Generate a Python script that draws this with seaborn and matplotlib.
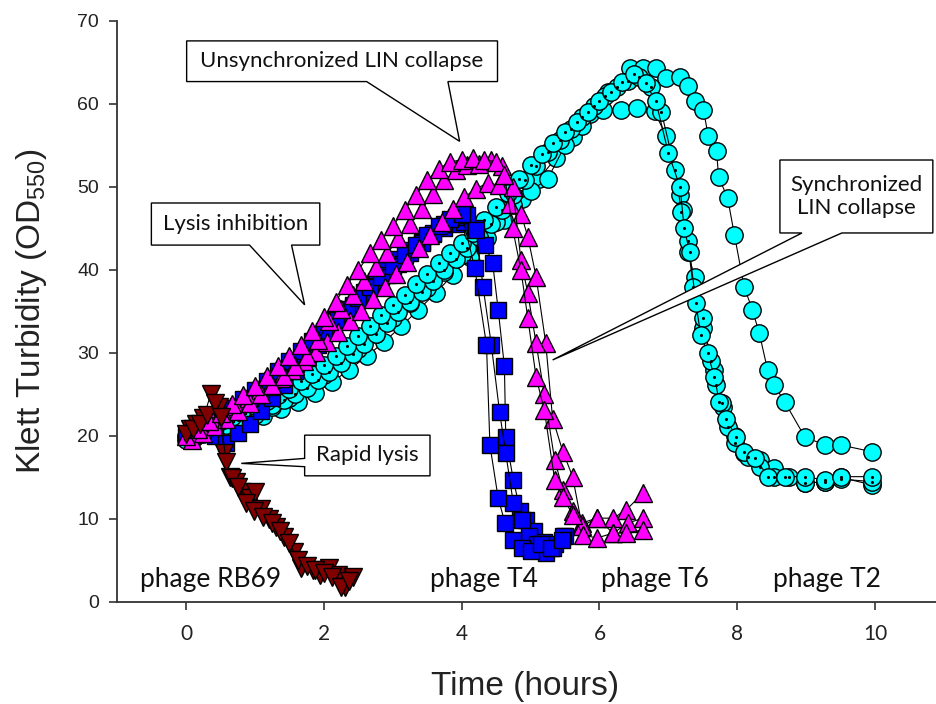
import matplotlib
matplotlib.use("Agg")
import matplotlib.pyplot as plt
import seaborn as sns
import pandas as pd
from matplotlib.patches import Polygon

# ---------------- data (Time in hours, Klett turbidity) ----------------
# phage T6 (cyan circles with dot), two replicates
t6a_x = [0.0,0.17,0.33,0.5,0.67,0.83,1.0,1.17,1.33,1.5,1.67,1.83,2.0,2.17,2.33,2.5,2.67,2.83,3.0,3.17,3.33,3.5,3.67,3.83,
         4.0,4.17,4.33,4.5,4.67,4.83,5.0,5.17,5.33,5.5,5.67,5.83,6.0,6.17,6.33,6.5,6.67,6.82,7.0,7.17,7.23,7.31,7.4,7.47,
         7.57,7.67,7.74,7.84,7.98,8.1,8.26,8.45,8.69,8.98,9.27,9.51,9.96]
t6a_y = [20.0,20.6,21.2,21.8,22.3,22.9,23.6,24.2,24.9,25.7,26.6,27.5,28.6,29.6,30.8,32.0,33.3,34.6,35.8,37.0,38.3,39.5,40.8,42.0,
         43.2,44.5,46.0,47.6,49.3,51.0,52.6,54.0,55.3,56.6,57.8,59.0,60.3,61.5,62.6,63.6,62.5,60.3,54.1,50.0,45.0,42.2,36.0,32.2,
         30.0,27.1,24.1,22.1,19.9,18.1,17.3,15.1,15.1,15.1,14.7,15.1,15.1]
t6b_x = [0.08,0.25,0.42,0.58,0.75,0.92,1.08,1.25,1.42,1.58,1.75,1.92,2.08,2.25,2.42,2.58,2.75,2.92,3.08,3.25,3.42,3.58,3.75,3.92,
         4.08,4.25,4.42,4.58,4.75,4.92,5.08,5.25,5.42,5.58,5.75,5.92,6.08,6.25,6.42,6.58,6.75,6.9,7.1,7.19,7.28,7.36,7.5,7.62,
         7.69,7.78,7.86,7.97,8.15,8.33,8.54,8.75,8.98,9.27,9.51,9.96]
t6b_y = [19.8,20.3,20.8,21.3,21.9,22.5,23.1,23.7,24.3,25.0,25.8,26.7,27.7,28.8,29.9,31.1,32.3,33.6,34.9,36.2,37.4,38.7,40.0,41.3,
         42.6,44.0,45.5,47.2,49.0,50.8,52.5,54.2,55.7,57.0,58.4,59.7,61.0,62.0,62.8,63.3,62.1,59.0,52.0,47.0,43.5,38.0,34.2,29.0,
         26.1,24.0,21.1,19.1,17.5,16.3,15.1,15.0,14.3,14.5,14.8,14.5]
# phage T2 (cyan circles), two replicates
t2c_x = [0.0,0.25,0.5,0.75,1.0,1.25,1.5,1.75,2.0,2.25,2.5,2.75,3.0,3.25,3.5,3.75,4.0,4.25,4.5,4.75,5.0,5.25,5.5,5.75,
         6.05,6.31,6.55,6.8,6.97,7.17,7.21,7.28,7.38,7.5,7.67,7.8,7.97,8.1,8.33,8.54,8.98,9.27,9.51,9.96]
t2c_y = [19.5,20.2,20.9,21.7,22.5,23.5,24.6,25.9,27.4,28.9,30.5,32.3,34.2,36.0,37.8,39.8,41.8,43.8,45.8,47.8,49.5,51.0,55.0,57.3,
         59.3,59.3,59.5,59.1,56.1,49.0,47.2,42.2,39.2,33.0,28.0,23.5,20.0,18.0,17.1,16.1,14.3,14.5,15.0,14.1]
t2d_x = [0.12,0.37,0.62,0.87,1.12,1.37,1.62,1.87,2.12,2.37,2.62,2.87,3.12,3.37,3.62,3.87,4.12,4.37,4.62,4.87,5.12,5.37,5.62,5.87,
         6.12,6.44,6.63,6.82,6.97,7.17,7.29,7.39,7.51,7.58,7.7,7.73,7.86,7.96,8.1,8.22,8.32,8.44,8.54,8.69,8.98,9.27,9.51,9.96]
t2d_y = [19.8,20.4,21.0,21.7,22.4,23.2,24.1,25.2,26.5,28.0,29.6,31.3,33.2,35.2,37.2,39.4,41.6,43.8,46.0,48.5,51.0,53.5,56.0,58.8,
         61.5,64.3,64.3,64.3,63.1,63.3,62.2,60.3,59.3,56.1,54.3,51.2,48.7,44.2,38.0,35.2,32.4,28.0,26.1,24.1,19.9,18.9,18.9,18.1]
# phage T4 (blue squares), three replicates
t4a_x = [0.0,0.17,0.33,0.5,0.67,0.83,1.0,1.17,1.33,1.5,1.67,1.83,2.0,2.17,2.33,2.5,2.67,2.83,3.0,3.17,3.33,3.5,3.67,3.83,4.0,
         4.19,4.36,4.41,4.53,4.63,4.75,4.87,5.0,5.15,5.3,5.45]
t4a_y = [20.0,20.7,21.5,22.4,23.4,24.4,25.5,26.6,27.8,29.0,30.2,31.4,32.7,34.0,35.3,36.6,37.9,39.2,40.5,41.8,43.0,44.2,45.3,46.2,46.8,
         40.2,31.0,18.9,12.5,9.5,7.5,6.5,6.2,7.0,6.5,7.5]
t4b_x = [0.08,0.25,0.42,0.58,0.75,0.92,1.08,1.25,1.42,1.58,1.75,1.92,2.08,2.25,2.42,2.58,2.75,2.92,3.08,3.25,3.42,3.58,3.75,3.92,
         4.08,4.21,4.31,4.43,4.55,4.64,4.75,4.87,4.97,5.1,5.22,5.32,5.47]
t4b_y = [20.0,20.8,21.7,22.6,23.6,24.6,25.7,26.8,28.0,29.2,30.4,31.6,32.9,34.2,35.5,36.8,38.1,39.4,40.7,42.0,43.3,44.5,45.6,46.4,
         46.6,44.8,38.0,31.0,22.9,17.9,11.9,9.9,8.0,7.0,5.9,6.5,7.9]
t4c_x = [0.25,0.42,0.58,0.75,0.92,1.08,1.25,1.42,1.58,1.75,1.92,2.08,2.25,2.42,2.58,2.75,2.92,3.08,3.25,3.42,3.58,3.75,3.92,
         4.04,4.2,4.34,4.45,4.53,4.62,4.64,4.75,4.85,4.94,5.05,5.2,5.35,5.5]
t4c_y = [20.5,20.0,19.1,20.4,21.5,23.0,24.6,26.2,27.8,29.4,31.0,32.6,34.2,35.8,37.3,38.7,40.0,41.3,42.4,43.4,44.3,45.1,45.6,
         45.8,45.0,43.0,40.8,35.2,28.4,19.9,14.7,11.0,9.9,8.5,7.2,7.0,8.0]
# magenta triangles, three replicates
mag1_x = [0.0,0.17,0.33,0.5,0.67,0.83,1.0,1.17,1.33,1.5,1.67,1.83,2.0,2.17,2.33,2.5,2.67,2.83,3.0,3.17,3.33,3.5,3.67,3.83,
          4.0,4.17,4.33,4.5,4.62,4.74,4.86,4.96,5.08,5.2,5.35,5.47,5.61,5.76,5.96,6.2,6.39,6.63]
mag1_y = [20.0,20.8,21.8,22.8,23.8,24.9,26.0,27.2,28.4,29.6,31.0,32.6,34.3,36.2,38.2,40.0,42.0,43.6,45.3,47.2,49.0,50.8,52.2,53.0,
          53.3,53.5,53.3,53.0,51.5,45.0,40.0,34.2,27.1,23.1,14.7,12.7,10.5,8.1,7.7,8.3,8.3,8.7]
mag2_x = [0.08,0.25,0.42,0.58,0.75,0.92,1.08,1.25,1.42,1.58,1.75,1.92,2.08,2.25,2.42,2.58,2.75,2.92,3.08,3.25,3.42,3.58,3.75,3.92,
          4.08,4.25,4.42,4.58,4.74,4.86,4.96,5.08,5.2,5.35,5.47,5.61,5.74,5.96,6.2,6.41,6.63]
mag2_y = [19.5,20.3,21.2,22.1,23.0,24.0,25.0,26.1,27.2,28.4,29.6,31.6,33.8,35.3,37.0,38.7,40.4,42.0,43.8,45.6,47.4,49.2,50.8,52.0,
          52.6,52.8,53.3,52.5,50.0,41.2,37.2,31.2,25.0,17.1,13.5,11.0,9.1,10.1,8.3,9.5,10.1]
mag3_x = [0.04,0.21,0.38,0.54,0.71,0.88,1.04,1.21,1.38,1.54,1.71,1.88,2.04,2.21,2.38,2.54,2.71,2.88,3.04,3.21,3.38,3.54,3.71,3.88,
          4.04,4.21,4.38,4.54,4.7,4.86,4.96,5.08,5.22,5.32,5.47,5.61,5.74,5.96,6.2,6.39,6.63]
mag3_y = [20.5,21.2,21.9,22.6,23.4,24.2,25.1,26.0,27.0,28.0,29.0,30.1,31.3,32.5,33.8,35.1,36.5,38.0,39.5,41.0,42.6,44.2,45.8,47.4,
          48.8,49.8,50.5,50.2,48.0,46.8,44.0,39.2,31.2,22.1,18.1,15.1,9.5,10.1,10.1,11.1,13.1]
# phage RB69 (dark red inverted triangles), two replicates
rb1_x = [0.0,0.1,0.2,0.3,0.42,0.5,0.58,0.66,0.75,0.87,0.99,1.12,1.24,1.36,1.5,1.62,1.75,1.87,2.0,2.12,2.25,2.37]
rb1_y = [20.2,20.8,21.5,22.5,24.0,22.3,16.9,14.9,13.9,11.9,11.0,10.2,9.5,8.5,7.1,5.1,4.3,3.8,3.5,3.0,1.8,2.5]
rb2_x = [0.05,0.15,0.25,0.36,0.47,0.55,0.63,0.72,0.8,0.92,0.995,1.08,1.2,1.3,1.42,1.56,1.67,1.84,1.95,2.08,2.2,2.3,2.42]
rb2_y = [20.8,21.5,22.2,25.1,23.5,18.0,15.1,14.5,13.3,12.5,13.3,11.2,10.0,9.0,7.8,6.0,4.1,3.9,3.2,4.1,3.3,1.8,3.0]

x_ticks = [0, 2, 4, 6, 8, 10]
y_ticks = [0, 10, 20, 30, 40, 50, 60, 70]
phage_labels = ["phage RB69", "phage T4", "phage T6", "phage T2"]
phage_label_x = [0.35, 4.33, 6.8, 9.3]

# ---------------- style ----------------
sns.set_theme(style="ticks")
ARIAL = ["Liberation Sans", "DejaVu Sans"]
CALIBRI = ["Lato", "DejaVu Sans"]
plt.rcParams["font.family"] = ARIAL
plt.rcParams["mathtext.fontset"] = "custom"
plt.rcParams["mathtext.rm"] = "Liberation Sans"
plt.rcParams["mathtext.it"] = "Liberation Sans:italic"

fig = plt.figure(figsize=(9.36, 7.04), dpi=100)
ax = fig.add_axes([0.1253, 0.1449, 0.8831, 0.8253])

CYAN = "#00FFFF"
BLUE = "#0000FF"
MAG = "#FF00FF"
RED = "#800000"

def series(xs, ys, marker, face, ms, z):
    df = pd.DataFrame({"t": xs, "v": ys})
    sns.lineplot(data=df, x="t", y="v", estimator=None, sort=False, ax=ax,
                 color="black", linewidth=0.8, marker=marker, markersize=ms,
                 markerfacecolor=face, markeredgecolor="black", markeredgewidth=1.0,
                 legend=False, zorder=z)
    return df

for xs, ys in [(t2d_x, t2d_y), (t2c_x, t2c_y)]:
    series(xs, ys, "o", CYAN, 12.5, 3)
for xs, ys in [(t6b_x, t6b_y), (t6a_x, t6a_y)]:
    df = series(xs, ys, "o", CYAN, 12.5, 3.2)
    sns.scatterplot(data=df, x="t", y="v", ax=ax, color="black", s=5,
                    linewidth=0, marker="o", legend=False, zorder=3.3)
for xs, ys in [(t4c_x, t4c_y), (t4b_x, t4b_y), (t4a_x, t4a_y)]:
    series(xs, ys, "s", BLUE, 11.5, 4)
for xs, ys in [(mag3_x, mag3_y), (mag2_x, mag2_y), (mag1_x, mag1_y)]:
    series(xs, ys, "^", MAG, 13, 5)
for xs, ys in [(rb2_x, rb2_y), (rb1_x, rb1_y)]:
    series(xs, ys, "v", RED, 13, 6)

ax.set_xlim(-1, 11)
ax.set_ylim(0, 70)
ax.set_xticks(x_ticks)
ax.set_yticks(y_ticks)
ax.set_xlabel("")
ax.set_ylabel("")
sns.despine(ax=ax)
for s in ["left", "bottom"]:
    ax.spines[s].set_linewidth(1.3)
    ax.spines[s].set_color("#333333")
ax.tick_params(axis="both", direction="out", length=6, width=1.2, color="#333333")
ax.tick_params(axis="y", labelsize=14, pad=7, labelcolor="#222222")
ax.tick_params(axis="x", labelsize=15, pad=10, labelcolor="#222222")
for lab in ax.get_yticklabels():
    lab.set_fontfamily(ARIAL)
for lab in ax.get_xticklabels():
    lab.set_fontfamily(CALIBRI)

fig.text(525 / 936, 1 - 686 / 704, "Time (hours)", ha="center", va="center",
         fontsize=24, color="#222222", family=ARIAL)
fig.text(32 / 936, 1 - 311 / 704, r"Klett Turbidity (OD$_{\mathregular{550}}$)", ha="center",
         va="center", rotation=90, fontsize=24, color="#222222", family=ARIAL)

def callout(verts, tx, ty, text):
    poly = Polygon(verts, closed=True, facecolor="white", edgecolor="black",
                   linewidth=1.0, zorder=8, clip_on=False)
    ax.add_patch(poly)
    ax.text(tx, ty, text, ha="center", va="center", fontsize=16,
            family=CALIBRI, color="#111111", zorder=9, linespacing=1.15)

# Unsynchronized LIN collapse (tail from bottom)
callout([(0.007, 67.6), (4.52, 67.6), (4.52, 62.7), (3.80, 62.7), (3.97, 55.5),
         (2.62, 62.7), (0.007, 62.7)], 2.26, 65.15, "Unsynchronized LIN collapse")
# Lysis inhibition
callout([(-0.505, 48.07), (1.94, 48.07), (1.94, 43.0), (1.53, 43.0), (1.72, 35.8),
         (0.92, 43.0), (-0.505, 43.0)], 0.72, 45.55, "Lysis inhibition")
# Rapid lysis (tail from left side)
callout([(1.72, 20.1), (3.54, 20.1), (3.54, 15.2), (1.72, 15.2), (1.72, 16.3),
         (0.80, 16.7), (1.72, 17.3)], 2.63, 17.65, "Rapid lysis")
# Synchronized LIN collapse
callout([(8.62, 53.25), (10.84, 53.25), (10.84, 44.46), (9.52, 44.46), (5.32, 29.16),
         (8.94, 44.46), (8.62, 44.46)], 9.73, 48.85, "Synchronized\nLIN collapse")

for lab, lx in zip(phage_labels, phage_label_x):
    ax.text(lx, 1.85, lab, ha="center", va="baseline", fontsize=19,
            family=CALIBRI, color="#111111", zorder=9)

fig.savefig("out.png", dpi=100)
